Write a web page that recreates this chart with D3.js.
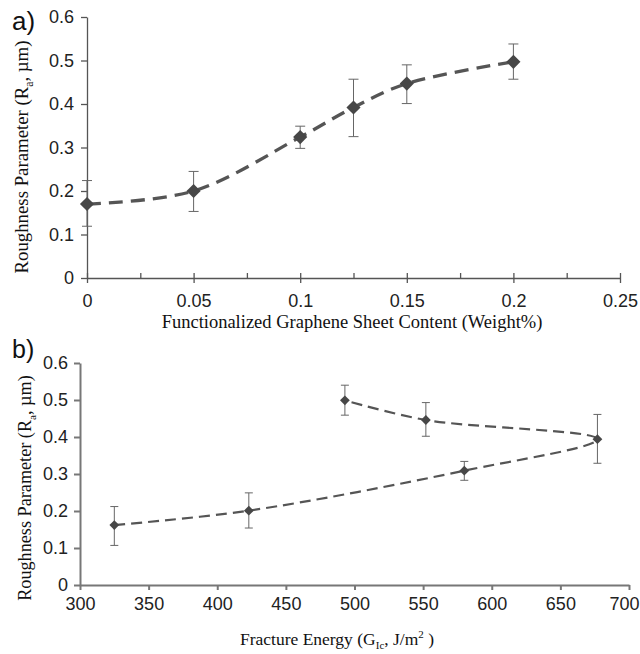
<!DOCTYPE html>
<html>
<head>
<meta charset="utf-8">
<script src="https://cdn.jsdelivr.net/npm/d3@7"></script>
<style>
  html, body { margin: 0; padding: 0; background: #fff; }
  svg { display: block; }
  .tick text { font-family: "Liberation Sans", Arial, sans-serif; font-size: 18px; fill: #222; }
  .title { font-family: "Liberation Serif", "Times New Roman", serif; fill: #111; }
  .panel-tag { font-family: "Liberation Sans", Arial, sans-serif; fill: #111; }
</style>
</head>
<body>
<svg id="chart" width="640" height="654"></svg>
<script>
// Panel (a): roughness vs. functionalized graphene sheet content
const contentA  = [0, 0.05, 0.1, 0.125, 0.15, 0.2];
const roughA    = [0.170, 0.200, 0.324, 0.392, 0.447, 0.497];
const roughLoA  = [0.119, 0.153, 0.298, 0.325, 0.401, 0.457];
const roughHiA  = [0.224, 0.245, 0.349, 0.457, 0.490, 0.538];
const xTicksA   = [0, 0.05, 0.1, 0.15, 0.2, 0.25];
const xMinorA   = [0.025, 0.075, 0.125, 0.175, 0.225];
const yTicks    = [0, 0.1, 0.2, 0.3, 0.4, 0.5, 0.6];

// Panel (b): roughness vs. fracture energy (same specimens, in content order)
const energyB   = [325, 423, 580, 677, 552, 493];
const roughB    = [0.162, 0.201, 0.309, 0.394, 0.446, 0.499];
const roughLoB  = [0.107, 0.154, 0.283, 0.329, 0.402, 0.459];
const roughHiB  = [0.212, 0.249, 0.334, 0.461, 0.493, 0.540];
const xTicksB   = [300, 350, 400, 450, 500, 550, 600, 650, 700];

const fmt = d => String(+d.toFixed(3));
const svg = d3.select("#chart");

function drawPanel(cfg) {
  const g = svg.append("g");
  const x = d3.scaleLinear().domain(cfg.xDomain).range(cfg.xRange);
  const y = d3.scaleLinear().domain([0, 0.6]).range(cfg.yRange);
  const pts = cfg.xs.map((v, i) => ({x: v, y: cfg.ys[i], lo: cfg.lo[i], hi: cfg.hi[i]}));

  // y axis
  const ya = g.append("g")
    .attr("transform", `translate(${cfg.xRange[0]},0)`)
    .call(d3.axisLeft(y).tickValues(yTicks).tickFormat(fmt)
      .tickSize(6).tickPadding(cfg.yPad).tickSizeOuter(0));
  // x axis
  const xa = g.append("g")
    .attr("transform", `translate(0,${cfg.yRange[0]})`)
    .call(d3.axisBottom(x).tickValues(cfg.xTicks).tickFormat(fmt)
      .tickSize(cfg.xTickSize).tickPadding(cfg.xPad).tickSizeOuter(0));
  if (cfg.crossTicks) xa.selectAll(".tick line").attr("y1", -5).attr("y2", 5);
  // keep the last label inside the page edge
  if (cfg.lastLabelShift) {
    xa.selectAll(".tick text").filter((d, i, n) => i === n.length - 1)
      .attr("x", cfg.lastLabelShift);
  }
  if (cfg.minor) {
    g.append("g")
      .attr("transform", `translate(0,${cfg.yRange[0]})`)
      .call(d3.axisBottom(x).tickValues(cfg.minor).tickFormat("").tickSize(-5).tickSizeOuter(0))
      .call(s => s.select(".domain").remove())
      .selectAll("line").attr("stroke", cfg.axisColor).attr("stroke-width", cfg.axisWidth);
  }
  [ya, xa].forEach(a => {
    a.select(".domain").attr("stroke", cfg.axisColor).attr("stroke-width", cfg.axisWidth);
    a.selectAll(".tick line").attr("stroke", cfg.axisColor).attr("stroke-width", cfg.axisWidth);
  });

  // error bars
  const eb = g.append("g").attr("stroke", "#666").attr("stroke-width", 1);
  pts.forEach(p => {
    eb.append("line").attr("x1", x(p.x)).attr("x2", x(p.x)).attr("y1", y(p.lo)).attr("y2", y(p.hi));
    [p.lo, p.hi].forEach(v => eb.append("line")
      .attr("x1", x(p.x) - cfg.cap).attr("x2", x(p.x) + cfg.cap)
      .attr("y1", y(v)).attr("y2", y(v)));
  });

  // smoothed dashed trend line
  const line = d3.line().x(d => x(d.x)).y(d => y(d.y)).curve(d3.curveCatmullRom.alpha(0.5));
  g.append("path").datum(pts).attr("d", line)
    .attr("fill", "none").attr("stroke", "#555")
    .attr("stroke-width", cfg.lineWidth).attr("stroke-dasharray", cfg.dash);

  // diamond markers
  const sym = d3.symbol().type(d3.symbolSquare).size(cfg.markerSize);
  g.selectAll("path.mk").data(pts).join("path").attr("class", "mk")
    .attr("d", sym)
    .attr("transform", d => `translate(${x(d.x)},${y(d.y)}) rotate(45)`)
    .attr("fill", "#474747");

  return g;
}

// ---- panel (a)
drawPanel({
  xs: contentA, ys: roughA, lo: roughLoA, hi: roughHiA,
  xDomain: [0, 0.25], xRange: [87, 620], yRange: [278, 17],
  xTicks: xTicksA, minor: xMinorA, crossTicks: true,
  xTickSize: 5, xPad: 11, yPad: 7,
  axisColor: "#555", axisWidth: 1.3,
  cap: 5, lineWidth: 3.3, dash: "14 8", markerSize: 100
});

// ---- panel (b)
drawPanel({
  xs: energyB, ys: roughB, lo: roughLoB, hi: roughHiB,
  xDomain: [300, 700], xRange: [80, 629], yRange: [585, 363],
  xTicks: xTicksB, minor: null, crossTicks: false, lastLabelShift: -5,
  xTickSize: 5, xPad: 7, yPad: 6,
  axisColor: "#777", axisWidth: 2,
  cap: 4, lineWidth: 2.2, dash: "11 6", markerSize: 48
});

// panel tags
svg.append("text").attr("class", "panel-tag").style("font-size", "26px")
  .attr("x", 12).attr("y", 30).text("a)");
svg.append("text").attr("class", "panel-tag").style("font-size", "25px")
  .attr("x", 12).attr("y", 358).text("b)");

// axis titles
function yTitle(cx, cy, size) {
  const t = svg.append("text").attr("class", "title")
    .attr("transform", `translate(${cx},${cy}) rotate(-90)`)
    .attr("text-anchor", "middle").style("font-size", size + "px");
  t.append("tspan").text("Roughness Parameter (R");
  t.append("tspan").attr("dy", size * 0.25).style("font-size", (size * 0.62) + "px").text("a");
  t.append("tspan").attr("dy", -size * 0.25).text(", \u00b5m)");
}
yTitle(28, 157, 18.8);
yTitle(31, 488, 18.2);

svg.append("text").attr("class", "title")
  .attr("x", 352).attr("y", 328).attr("text-anchor", "middle").style("font-size", "18.5px")
  .text("Functionalized Graphene Sheet Content (Weight%)");

const tb = svg.append("text").attr("class", "title")
  .attr("x", 337).attr("y", 645).attr("text-anchor", "middle").style("font-size", "17.5px");
tb.append("tspan").text("Fracture Energy (G");
tb.append("tspan").attr("dy", 4).style("font-size", "11px").text("Ic");
tb.append("tspan").attr("dy", -4).text(", J/m");
tb.append("tspan").attr("dy", -7).style("font-size", "11px").text("2");
tb.append("tspan").attr("dy", 7).text(" )");
</script>
</body>
</html>
